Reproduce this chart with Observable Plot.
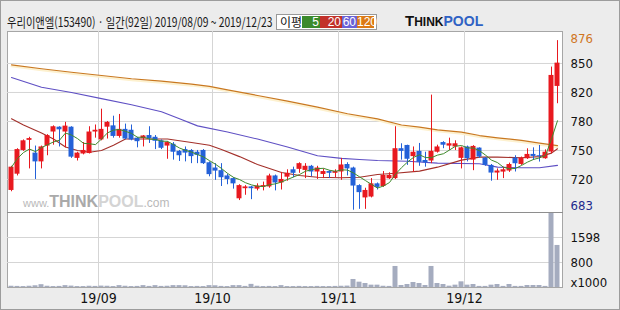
<!DOCTYPE html>
<html><head><meta charset="utf-8">
<script src="https://cdn.jsdelivr.net/npm/d3@7"></script>
<script src="https://cdn.jsdelivr.net/npm/@observablehq/plot@0.6"></script>
<style>
body{margin:0;background:#fff;}
#wrap{position:relative;width:620px;height:310px;background:#ececec;overflow:hidden;font-family:"Liberation Sans Narrow","DejaVu Sans Condensed","Liberation Sans",sans-serif;}
#outline{position:absolute;left:0;top:0;width:620px;height:310px;box-sizing:border-box;border:1px solid #9c9c9c;pointer-events:none;}
#title{position:absolute;left:7px;top:14px;font-family:"Noto Sans CJK KR",sans-serif;font-size:13px;color:#1a1a1a;white-space:nowrap;transform:scaleX(0.79);transform-origin:left top;line-height:16px;}
#legend{position:absolute;left:276px;top:14px;width:101px;height:16px;box-sizing:border-box;border:1px solid #999;background:#fff;}
#legend .lbl{position:absolute;left:3px;top:-1px;font-family:"Noto Sans CJK KR",sans-serif;font-size:12px;line-height:16px;color:#111;}
#legend .box{position:absolute;top:1px;height:12px;color:#fff;font-size:12px;line-height:12px;text-align:right;box-sizing:border-box;padding-right:1px;font-family:"Liberation Sans Narrow","Liberation Sans",sans-serif;}
#logo{position:absolute;left:405px;top:13px;font-family:"Liberation Sans","DejaVu Sans",sans-serif;font-weight:bold;white-space:nowrap;line-height:16px;}
#panel{position:absolute;left:7px;top:31px;width:556px;height:257px;box-sizing:border-box;border:1px solid #a6a6a6;background:#fff;}
#sep{position:absolute;left:7px;top:212px;width:556px;height:1px;background:#8e8e8e;}
#wm{position:absolute;left:23px;top:193px;font-family:"Liberation Sans","DejaVu Sans",sans-serif;white-space:nowrap;color:#b9b9b9;line-height:17px;}
#price{position:absolute;left:0;top:31px;}
#vol{position:absolute;left:0;top:212px;}
</style></head><body>
<div id="wrap">
  <div id="panel"></div>
  <div id="wm"><span style="font-size:11px">www.</span><span style="font-size:16px;font-weight:bold;color:#aaa">THINK</span><span style="font-size:16px;font-weight:bold;color:#d4d4d4">POOL</span><span style="font-size:12px">.com</span></div>
  <div id="price"></div>
  <div id="vol"></div>
  <div id="sep"></div>
  <div id="title"></div>
  <div id="legend"></div>
  <div id="logo"><span style="font-size:15px;color:#111">T</span><span style="font-size:12px;color:#111">HINK</span><span style="font-size:14px;color:#2f62c4">POOL</span></div>
  <div id="outline"></div>
</div>
<script>
// ---- text ----
const titleText = "우리이앤엘(153490) · 일간(92일) 2019/08/09 ~ 2019/12/23";
const legendTitle = "이평";
const legendLabels = ["5", "20", "60", "120"];
const legendColors = ["#3b8a2b", "#c2312a", "#6a62d6", "#dc7a14"];

// ---- daily OHLC (trading day index 0..91) ----
const opens = [705.5,724,751,762.5,748,738,756,772,777.5,772,777.5,742,747,747.5,772,763,777.5,779,767,775,774,765,764.5,768,766,762,756,758,750,752,751,749,751,737,731,728,722,719,696,707.5,709.5,707,709,709.5,722,714,720.6,729,729.5,728.3,733,726.5,723.7,727,725,726.5,735,731,711,697,698,713,710,718.8,719,753,756.7,744,750,739.6,739,749,760,756,755,742,755,740,753.7,742.3,734,725.3,726.4,727.6,742.3,735.1,741.6,746.5,745,741.6,749.2,823.9];
const highs = [733,753,763,766,756,756,769,779,778,783,778,749,760,778,780,798,784,790,792,781,780,766,768,778,768,763,761,760,751,755,752,751,752,738,736,736,724,720,712,711,710,713,715,724,723,726,729,732,737,736,734,733,730,728,729,742,737,732,712,708,719,714,727,725.6,778,758.6,757,755,759,749,814,757,761,765,762,755,756,756.5,754,743,735,730,732,736.6,745,743.5,752.9,754,756.7,751.7,845.9,876];
const lows = [704,722,750,730,718,730,745,757,755,754,742,739,746,747,765,762,764,765,765,763,762,754,755,759,752,752,741,740,738.5,738,736,736,735,721,717,710,712,707,694,700,695,705,705,708,705,706,716,720,725,719,721,718,719,719,720,717,722,683,684,684,697,706,709,718,718,740,734,726,733,732,736,748,753,751,751,730,738,728,742,733,716,717,719,726,726.5,734,740.8,739.6,737.8,741,747.3,804.2];
const closes = [732,752,762,764.5,738,755,768,778,774.5,778.7,743.4,748,751,772,774,775,783,767,775,764,763,761,767.5,764.5,761.5,753.5,760,749,745,748,744,745.5,736,723.5,727.5,720,718,713,711,709.5,707.5,710.5,711,722,714,718,725,725,736,733,726.5,731,727,725,727,734.5,730,710.5,703,705.5,713,709,722.5,722.6,753,750,741,749,737.5,737,750,755,757,758.6,758.6,754,741.6,755.6,743.5,734,725.3,727.6,729,735,735.9,742.3,746.5,744.2,744,749,836.4,850.4];
// volume, thousands of shares
const volumes = [40,35,30,40,55,90,40,30,35,60,45,30,30,40,35,45,40,30,60,40,30,35,60,35,60,35,40,60,60,55,30,35,30,60,55,35,30,60,60,35,100,40,30,35,30,60,30,30,35,30,30,35,30,30,35,40,45,256,170,128,75,75,40,35,672,64,96,160,128,64,672,128,96,43,75,181,75,96,35,35,75,96,35,96,35,35,64,64,64,35,2397,1344];

// ---- moving averages (day index, price) ----
const ma20Day = [0,2,5,7,9,11,13,15,17,19,23,26,30,33,35,38,41,45,48,51,55,58,61,64,68,71,75,78,81,85,88,90,91];
const ma20Val = [787,780,771,764,755,751,749,751,757,764,764,764,760,757,752,744,735,726,722.5,720.6,720,720.6,723.7,725,727.5,732,740,743.4,743.4,742.7,744,748,753];
const ma60Day = [0,5,10,15,20,25,28,31,36,41,46,51,55,58,61,66,71,78,81,85,88,91];
const ma60Val = [834,823,817,810,803,795,787,779,772,764,755,745,742,740.7,739.6,738.8,736.6,735.9,732,731.3,731.3,734];
const ma120Day = [0,5,10,15,20,25,30,33,36,41,46,51,56,61,65,68,71,75,78,81,85,88,91];
const ma120Val = [848.5,844,840,836.3,832.6,829.9,826.5,824,820,813.6,807.1,800.3,792.8,787,780,777.5,774.5,771.8,768,765.4,762.4,759.3,756.5];

// ---- axes ----
const monthTicks = [14.5, 33.5, 54.5, 75.5];
const monthLabels = ["19/09", "19/10", "19/11", "19/12"];
const priceTicks = [850, 817, 784, 751, 718];
const priceTickLabels = ["850", "820", "780", "750", "720"];
const maxLabel = 876, minLabel = 683;
const volTicks = [799, 1598];
const volTickLabels = ["800", "1598"];
const volUnit = "x1000";

// ---- build ----
document.getElementById("title").textContent = titleText;
const leg = document.getElementById("legend");
const lt = document.createElement("span"); lt.className = "lbl"; lt.textContent = legendTitle; leg.appendChild(lt);
const boxLeft = [25, 43, 65, 80], boxW = [18, 22, 15, 17];
legendLabels.forEach((t, k) => {
  const b = document.createElement("span"); b.className = "box";
  b.style.left = boxLeft[k] + "px"; b.style.width = boxW[k] + "px"; b.style.background = legendColors[k];
  b.textContent = t; leg.appendChild(b);
});

const days = opens.map((o, i) => ({i, open: o, high: highs[i], low: lows[i], close: closes[i], vol: volumes[i]}));
const up = days.filter(d => d.close >= d.open);
const down = days.filter(d => d.close < d.open);
const toPts = (ds, vs) => ds.map((d, k) => ({i: d, v: vs[k]}));
const RED = "#e8191f", BLUE = "#2461d8";
const font = {fontFamily: '"Liberation Sans Narrow","DejaVu Sans Condensed","Liberation Sans",sans-serif', fontSize: "13px", background: "transparent", overflow: "visible", color: "#111"};
const xDom = [-4/6, 91 + 5/6];
const gridC = "#d5d5d5";

const price = Plot.plot({
  width: 620, height: 181,
  marginLeft: 7, marginRight: 58, marginTop: 0, marginBottom: 0,
  style: font,
  x: {domain: xDom, axis: null, label: null},
  y: {domain: [680.4, 886.4], axis: null, label: null},
  marks: [
    Plot.gridY(priceTicks, {stroke: gridC, strokeOpacity: 1}),
    Plot.gridX(monthTicks, {stroke: gridC, strokeOpacity: 1}),
    Plot.axisY(priceTicks, {anchor: "right", tickSize: 0, tickPadding: 8, label: null, tickFormat: d => priceTickLabels[priceTicks.indexOf(d)], fill: "#111"}),
    Plot.text([maxLabel], {y: d => d, text: d => String(d), frameAnchor: "right", dx: 8, dy: -2, textAnchor: "start", fill: "#d0761e"}),
    Plot.text([minLabel], {y: d => d, text: d => String(d), frameAnchor: "right", dx: 8, dy: -4, textAnchor: "start", fill: "#1c2a8c"}),
    Plot.line(toPts(ma120Day, ma120Val), {x: "i", y: "v", stroke: "#fdf1cf", strokeWidth: 2, dy: 1.5}),
    Plot.line(toPts(ma120Day, ma120Val), {x: "i", y: "v", stroke: "#c9781f", strokeWidth: 1.2}),
    Plot.line(toPts(ma60Day, ma60Val), {x: "i", y: "v", stroke: "#5f50c4", strokeWidth: 1.1}),
    Plot.line(toPts(ma20Day, ma20Val), {x: "i", y: "v", stroke: "#a3302a", strokeWidth: 1.1}),
    Plot.ruleX(up, {x: "i", y1: "low", y2: "high", stroke: RED, strokeWidth: 1}),
    Plot.ruleX(down, {x: "i", y1: "low", y2: "high", stroke: BLUE, strokeWidth: 1}),
    Plot.rect(up, {x1: d => d.i - 0.415, x2: d => d.i + 0.415, y1: "open", y2: "close", fill: RED}),
    Plot.rect(down, {x1: d => d.i - 0.415, x2: d => d.i + 0.415, y1: "open", y2: "close", fill: BLUE}),
    Plot.lineY(days, Plot.windowY({k: 5, anchor: "end", reduce: "mean"}, {x: "i", y: "close", stroke: "#3f8a2c", strokeWidth: 1}))
  ]
});
document.getElementById("price").appendChild(price);

const vol = Plot.plot({
  width: 620, height: 98,
  marginLeft: 7, marginRight: 58, marginTop: 0, marginBottom: 23,
  style: font,
  x: {domain: xDom, axis: null, label: null},
  y: {domain: [0, 2397], axis: null, label: null},
  marks: [
    Plot.gridY(volTicks, {stroke: gridC, strokeOpacity: 1}),
    Plot.gridX(monthTicks, {stroke: gridC, strokeOpacity: 1}),
    Plot.axisY(volTicks, {anchor: "right", tickSize: 0, tickPadding: 8, label: null, tickFormat: d => volTickLabels[volTicks.indexOf(d)], fill: "#111"}),
    Plot.text([volUnit], {frameAnchor: "bottom-right", dx: 8, dy: -1, textAnchor: "start", fill: "#111"}),
    Plot.rectY(days, {x1: d => d.i - 0.415, x2: d => d.i + 0.415, y: "vol", fill: "#a5acbf"}),
    Plot.axisX(monthTicks, {anchor: "bottom", tickSize: 0, tickPadding: 6, label: null, tickFormat: d => monthLabels[monthTicks.indexOf(d)], fill: "#111", fontSize: 14})
  ]
});
document.getElementById("vol").appendChild(vol);
</script>
</body></html>
